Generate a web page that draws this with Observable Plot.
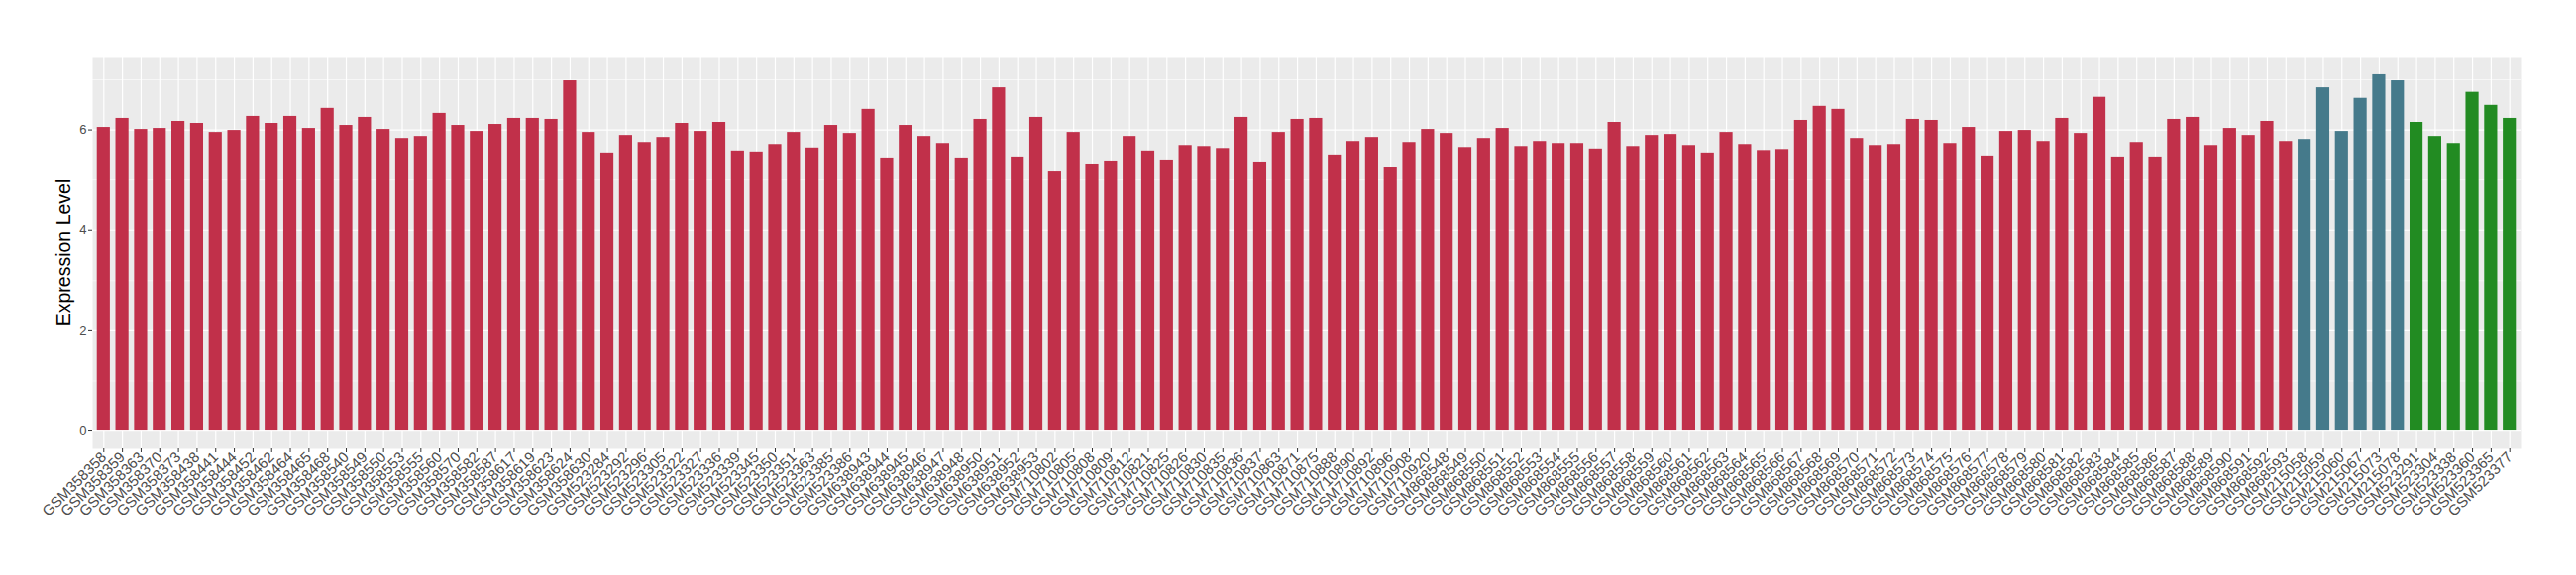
<!DOCTYPE html>
<html><head><meta charset="utf-8">
<script src="https://cdn.jsdelivr.net/npm/d3@7"></script>
<script src="https://cdn.jsdelivr.net/npm/@observablehq/plot@0.6"></script>
<style>body{margin:0;background:#fff;} svg{display:block;}</style>
</head><body><div id="chart"></div>
<script>
const redSamples = ["GSM358358","GSM358359","GSM358363","GSM358370","GSM358373","GSM358438","GSM358441","GSM358444","GSM358452","GSM358462","GSM358464","GSM358465","GSM358468","GSM358540","GSM358549","GSM358550","GSM358553","GSM358555","GSM358560","GSM358570","GSM358582","GSM358587","GSM358617","GSM358619","GSM358623","GSM358624","GSM358630","GSM523284","GSM523292","GSM523296","GSM523305","GSM523322","GSM523327","GSM523336","GSM523339","GSM523345","GSM523350","GSM523351","GSM523363","GSM523385","GSM523386","GSM638943","GSM638944","GSM638945","GSM638946","GSM638947","GSM638948","GSM638950","GSM638951","GSM638952","GSM638953","GSM710802","GSM710805","GSM710808","GSM710809","GSM710812","GSM710821","GSM710825","GSM710826","GSM710830","GSM710835","GSM710836","GSM710837","GSM710863","GSM710871","GSM710875","GSM710888","GSM710890","GSM710892","GSM710896","GSM710908","GSM710920","GSM868548","GSM868549","GSM868550","GSM868551","GSM868552","GSM868553","GSM868554","GSM868555","GSM868556","GSM868557","GSM868558","GSM868559","GSM868560","GSM868561","GSM868562","GSM868563","GSM868564","GSM868565","GSM868566","GSM868567","GSM868568","GSM868569","GSM868570","GSM868571","GSM868572","GSM868573","GSM868574","GSM868575","GSM868576","GSM868577","GSM868578","GSM868579","GSM868580","GSM868581","GSM868582","GSM868583","GSM868584","GSM868585","GSM868586","GSM868587","GSM868588","GSM868589","GSM868590","GSM868591","GSM868592","GSM868593"];
const redValues = [6.05,6.23,6.01,6.03,6.17,6.13,5.95,5.99,6.27,6.13,6.27,6.03,6.43,6.09,6.25,6.01,5.83,5.87,6.33,6.09,5.97,6.11,6.23,6.23,6.21,6.98,5.95,5.54,5.89,5.75,5.85,6.13,5.97,6.15,5.58,5.56,5.71,5.95,5.64,6.09,5.93,6.41,5.44,6.09,5.87,5.73,5.44,6.21,6.84,5.46,6.25,5.18,5.95,5.32,5.38,5.87,5.58,5.40,5.69,5.67,5.63,6.25,5.36,5.95,6.21,6.23,5.50,5.77,5.85,5.26,5.75,6.01,5.93,5.65,5.83,6.03,5.67,5.77,5.73,5.73,5.62,6.15,5.67,5.89,5.91,5.69,5.54,5.95,5.71,5.59,5.61,6.19,6.47,6.41,5.83,5.69,5.71,6.21,6.19,5.73,6.05,5.48,5.97,5.99,5.77,6.23,5.93,6.65,5.46,5.75,5.46,6.21,6.25,5.69,6.03,5.89,6.17,5.77];
const tealSamples = ["GSM215058","GSM215059","GSM215060","GSM215067","GSM215073","GSM215078"];
const tealValues = [5.81,6.84,5.97,6.63,7.10,6.98];
const greenSamples = ["GSM523291","GSM523304","GSM523338","GSM523360","GSM523365","GSM523377"];
const greenValues = [6.15,5.87,5.73,6.75,6.49,6.23];
const groupNames = ["Group A","Group B","Group C"];
const groupColors = ["#C1304A","#457A8B","#228B22"];
const yTicks = [0,2,4,6];
const yMinor = [1,3,5,7];

const data = [
  ...redSamples.map((s,i)=>({sample:s, value:redValues[i], group:groupNames[0]})),
  ...tealSamples.map((s,i)=>({sample:s, value:tealValues[i], group:groupNames[1]})),
  ...greenSamples.map((s,i)=>({sample:s, value:greenValues[i], group:groupNames[2]}))
];
const samples = data.map(d=>d.sample);
const vmax = d3.max(data, d=>d.value);
const pad = vmax*0.05;

const chart = Plot.plot({
  width: 2600, height: 580,
  marginLeft: 93, marginRight: 56, marginTop: 57, marginBottom: 128,
  style: {fontFamily: "'Liberation Sans', Arial, sans-serif", background: "white"},
  x: {domain: samples, paddingInner: 0.3, paddingOuter: 0.25, align: 0.5},
  y: {domain: [-pad, vmax+pad]},
  color: {type: "ordinal", domain: groupNames, range: groupColors},
  marks: [
    Plot.frame({fill: "#EBEBEB", stroke: null}),
    Plot.gridY(yMinor, {stroke: "white", strokeOpacity: 1, strokeWidth: 0.6}),
    Plot.gridY(yTicks, {stroke: "white", strokeOpacity: 1, strokeWidth: 1.2}),
    Plot.gridX(samples, {stroke: "white", strokeOpacity: 1, strokeWidth: 1.2}),
    Plot.barY(data, {x: "sample", y: "value", fill: "group"}),
    Plot.axisY(yTicks, {tickSize: 4, tickPadding: 2, tickFormat: "d", label: null, fontSize: 13, stroke: "#333", fill: "#4D4D4D"}),
    Plot.axisX({tickRotate: -45, tickSize: 4, tickPadding: 2, label: null, fontSize: 15, stroke: "#333", fill: "#4D4D4D", textAnchor: "end"}),
    Plot.text([0], {frameAnchor: "left", dx: -29, rotate: -90, text: () => "Expression Level", fontSize: 19.5, fill: "black", textAnchor: "middle"})
  ]
});
document.getElementById("chart").appendChild(chart);
</script>
</body></html>
